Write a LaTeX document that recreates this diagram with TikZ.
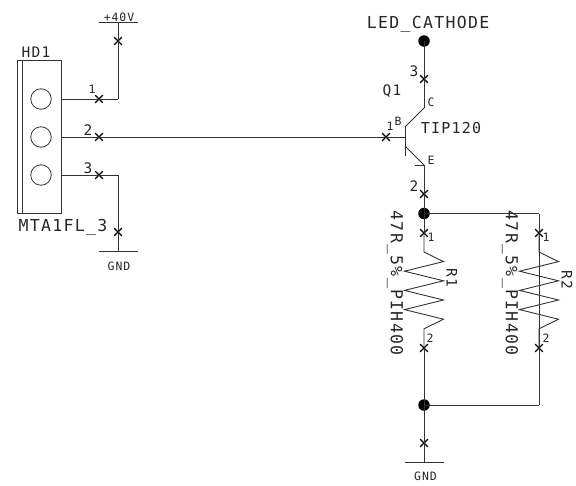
\documentclass[tikz,border=0pt]{standalone}
\usepackage{fontspec}
\setmainfont[LetterSpace=8]{DejaVu Sans Mono}
\usetikzlibrary{shapes.misc}

\tikzset{
	wire/.style={draw=black!80, line width=0.9pt},
	pinx/.style={cross out, draw=black, line width=1.2pt, minimum size=6.5pt, inner sep=0pt},
	dot/.style={circle, fill=black, inner sep=0pt, minimum size=11.5pt},
	hole/.style={circle, draw=black!80, line width=0.8pt, inner sep=0pt, minimum size=20.5pt},
	big/.style={font=\fontsize{16.5}{16.5}\selectfont, inner sep=0pt, text=black!85},
	mid/.style={font=\fontsize{14.5}{14.5}\selectfont, inner sep=0pt, text=black!85},
	small/.style={font=\fontsize{11.5}{11.5}\selectfont, inner sep=0pt, text=black!85}
}

\begin{document}
\begin{tikzpicture}[x=1pt, y=-1pt]
	\useasboundingbox (0,0) rectangle (576,485);

	% connector HD1
	\node [wire, rectangle, minimum width=43.5pt, minimum height=153.5pt, inner sep=0pt] (hd) at (39.25,136.75) {};
	\draw [wire] (22.5,60) -- (22.5,213.5);
	\node [hole] (h1) at (41,99) {};
	\node [hole] (h2) at (41,137) {};
	\node [hole] (h3) at (41,175) {};
	\coordinate (h1e) at (61,99);
	\coordinate (h2e) at (61,137);
	\coordinate (h3e) at (61,175);

	% left side nets
	\node [pinx] (p1) at (99,99) {};
	\node [pinx] (p2) at (99,137) {};
	\node [pinx] (p3) at (99,175) {};
	\coordinate (c1) at (118,99);
	\coordinate (c3) at (118,175);
	\node [pinx] (vx) at (118,41) {};
	\node [pinx] (gx1) at (118,232) {};
	\coordinate (v) at (118,22);
	\coordinate (v1) at (99,22);
	\coordinate (v2) at (137.5,22);
	\coordinate (g1) at (118,251);
	\coordinate (g1a) at (99,251);
	\coordinate (g1b) at (137.5,251);

	% transistor
	\node [dot] (top) at (424,41) {};
	\node [pinx] (qc) at (424,79) {};
	\node [pinx] (qb) at (386,137) {};
	\node [pinx] (qe) at (424,194) {};
	\node [dot] (mid) at (424,213.5) {};
	\coordinate (c) at (424,108);
	\coordinate (e) at (424,165);
	\coordinate (ea) at (415,165);
	\coordinate (b) at (405,137);
	\coordinate (bt) at (405,127);
	\coordinate (bb) at (405,156);
	\coordinate (be) at (405,146);

	% resistors
	\node [pinx] (r1a) at (424,233) {};
	\node [pinx] (r1b) at (424,348) {};
	\node [pinx] (r2a) at (539,233) {};
	\node [pinx] (r2b) at (539,348) {};
	\coordinate (mr) at (539,213.5);
	\coordinate (br) at (539,405);
	\node [dot] (bot) at (424,405) {};
	\node [pinx] (gx2) at (424,443) {};
	\coordinate (g2) at (424,462);
	\coordinate (g2a) at (405,462);
	\coordinate (g2b) at (443.5,462);

	\path [wire]
	(h1e) edge (p1.center)
	(p1.center) edge (c1)
	(c1) edge (v)
	(v1) edge (v2)
	(h2e) edge (b)
	(h3e) edge (c3)
	(c3) edge (g1)
	(g1a) edge (g1b)
	(top.center) edge (c)
	(c) edge (bt)
	(bt) edge (bb)
	(be) edge (e)
	(ea) edge (e)
	(e) edge (mid.center)
	(mid.center) edge (mr)
	(mr) edge (br)
	(br) edge (bot.center)
	(mid.center) edge (r1a.center)
	(r1b.center) edge (g2)
	(g2a) edge (g2b);

	% zigzags
	\foreach \xr/\nm in {424/r1, 539/r2} {
		\draw [wire, line join=miter] (\xr,233) -- (\xr,252) -- ++(19.5,9.6) -- ++(-39,9.6) -- ++(39,9.6) -- ++(-39,9.6) -- ++(39,9.6) -- ++(-39,9.6) -- ++(39,9.6) -- ++(-19.5,9.6) -- (\xr,348);
	}

	% labels
	\node [mid] (hdname) at (36,52) {HD1};
	\node [big] (hdval) at (63,227) {MTA1FL\_3};
	\node [small] (vtxt) at (119,17) {+40V};
	\node [small] (g1txt) at (119,266) {GND};
	\node [small] (n1) at (92,89) {1};
	\node [mid] (n2) at (88,130) {2};
	\node [mid] (n3) at (88,168) {3};
	\node [big] (led) at (428,24.5) {LED\_CATHODE};
	\node [mid] (q3) at (414,71) {3};
	\node [mid] (qn) at (392,91) {Q1};
	\node [small] (qcl) at (431,102) {C};
	\node [small] (qbl) at (398,121) {B};
	\node [small] (q1) at (390,126) {1};
	\node [big, font=\fontsize{15}{15}\selectfont] (qv) at (451,128) {TIP120};
	\node [small] (qel) at (431,160) {E};
	\node [mid] (q2) at (414,186) {2};
	\node [big, rotate=-90] (r1v) at (395,283) {47R\_5\%\_PIH400};
	\node [big, rotate=-90] (r2v) at (510,283) {47R\_5\%\_PIH400};
	\node [mid, rotate=-90] (r1n) at (452,278) {R1};
	\node [mid, rotate=-90] (r2n) at (567,280) {R2};
	\node [small] (r1p) at (431,237) {1};
	\node [small] (r1q) at (430,338) {2};
	\node [small] (r2p) at (546,237) {1};
	\node [small] (r2q) at (546,338) {2};
	\node [small] (g2txt) at (425.5,476) {GND};
\end{tikzpicture}
\end{document}
